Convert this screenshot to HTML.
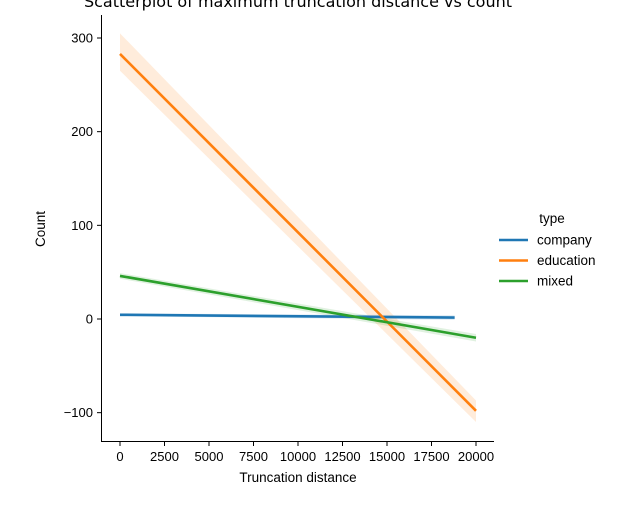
<!DOCTYPE html>
<html><head><meta charset="utf-8"><style>
body{margin:0;background:#fff;}
text{font-family:"Liberation Sans","DejaVu Sans",sans-serif;fill:#000;}
</style></head><body>
<svg id="chart" width="619" height="500" viewBox="0 0 619 500" xmlns="http://www.w3.org/2000/svg">
<text x="298" y="7" font-size="16" text-anchor="middle" style="font-family:'DejaVu Sans',sans-serif">Scatterplot of maximum truncation distance vs count</text>
<g id="marks"></g>
<line x1="101.5" y1="15" x2="101.5" y2="441.5" stroke="#000" stroke-width="1"/>
<line x1="101" y1="441.5" x2="494" y2="441.5" stroke="#000" stroke-width="1"/>
<g id="xticks"></g><g id="yticks"></g>
<text x="298" y="482" font-size="13.5" text-anchor="middle">Truncation distance</text>
<text x="45" y="229" font-size="13.5" text-anchor="middle" transform="rotate(-90 45 229)">Count</text>
<g>
<text x="552" y="223" font-size="13.5" text-anchor="middle">type</text>
<g id="legend"></g>
</g>
</svg>
<script>
const series = ["company","education","mixed"];
const colors = ["#1f77b4","#ff7f0e","#2ca02c"];
const xStart = [0,0,0];
const xEnd = [18800,20000,20000];
const yStart = [4.5,283,46];
const yEnd = [1.5,-98,-20];
const bandStart = [[3,6],[265,305],[43,49]];
const bandEnd = [[-1,4],[-110,-87],[-24,-16]];
const xTicks = [0,2500,5000,7500,10000,12500,15000,17500,20000];
const yTicks = [-100,0,100,200,300];
const NS="http://www.w3.org/2000/svg";
const X=v=>120+v*(476-120)/20000;
const Y=v=>319-v*(319-38)/300;
const marks=document.getElementById('marks');
series.forEach((s,i)=>{
  const band=document.createElementNS(NS,'polygon');
  
  
  band.setAttribute('points',`${X(xStart[i])},${Y(bandStart[i][1])} ${X(xEnd[i])},${Y(bandEnd[i][1])} ${X(xEnd[i])},${Y(bandEnd[i][0])} ${X(xStart[i])},${Y(bandStart[i][0])}`);
  band.setAttribute('fill',colors[i]);band.setAttribute('fill-opacity','0.15');
  marks.appendChild(band);
});
series.forEach((s,i)=>{
  const l=document.createElementNS(NS,'line');
  
  
  l.setAttribute('x1',X(xStart[i]));l.setAttribute('y1',Y(yStart[i]));
  l.setAttribute('x2',X(xEnd[i]));l.setAttribute('y2',Y(yEnd[i]));
  l.setAttribute('stroke',colors[i]);l.setAttribute('stroke-width','2.6');
  marks.appendChild(l);
});
const xt=document.getElementById('xticks');
xTicks.forEach(v=>{
  const l=document.createElementNS(NS,'line');
  
  
  l.setAttribute('x1',X(v));l.setAttribute('x2',X(v));l.setAttribute('y1',441.5);l.setAttribute('y2',446);l.setAttribute('stroke','#000');
  xt.appendChild(l);
  const t=document.createElementNS(NS,'text');
  
  
  t.setAttribute('x',X(v));t.setAttribute('y',461);t.setAttribute('font-size','13');t.setAttribute('text-anchor','middle');
  t.textContent=v;xt.appendChild(t);
});
const yt=document.getElementById('yticks');
yTicks.forEach(v=>{
  const l=document.createElementNS(NS,'line');
  
  
  l.setAttribute('x1',97);l.setAttribute('x2',101.5);l.setAttribute('y1',Y(v));l.setAttribute('y2',Y(v));l.setAttribute('stroke','#000');
  yt.appendChild(l);
  const t=document.createElementNS(NS,'text');
  
  
  t.setAttribute('x',93);t.setAttribute('y',Y(v)+4.5);t.setAttribute('font-size','13');t.setAttribute('text-anchor','end');
  t.textContent=v<0?'\u2212'+Math.abs(v):v;yt.appendChild(t);
});
const lg=document.getElementById('legend');
series.forEach((s,i)=>{
  const y=240+i*20.5;
  const l=document.createElementNS(NS,'line');
  
  
  l.setAttribute('x1',499);l.setAttribute('x2',528);l.setAttribute('y1',y);l.setAttribute('y2',y);l.setAttribute('stroke',colors[i]);l.setAttribute('stroke-width','2.6');
  lg.appendChild(l);
  const t=document.createElementNS(NS,'text');
  
  
  t.setAttribute('x',537);t.setAttribute('y',y+4.5);t.setAttribute('font-size','13.5');
  t.textContent=s;lg.appendChild(t);
});
</script>
</body></html>
